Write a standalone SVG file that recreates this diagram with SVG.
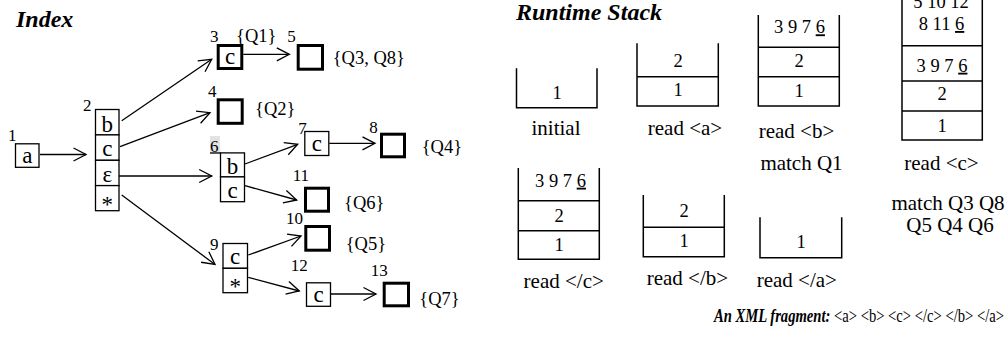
<svg xmlns="http://www.w3.org/2000/svg" width="1006" height="360" viewBox="0 0 1006 360">
<defs>
<style>
text{font-family:"Liberation Serif","Times New Roman",serif;fill:#000}
.t{font-size:24px;font-weight:bold;font-style:italic}
.n{font-size:17px}
.q{font-size:18.5px}
.l{font-size:23px;text-anchor:middle}
.s{font-size:18.5px;text-anchor:middle}
.c{font-size:21px;text-anchor:middle}
.thin{fill:#fff;stroke:#000;stroke-width:1.3}
.thick{fill:#fff;stroke:#000;stroke-width:3}
.stk{fill:none;stroke:#000;stroke-width:1.5}
.e{fill:none;stroke:#000;stroke-width:1.3}
</style>
<marker id="ah" markerUnits="userSpaceOnUse" markerWidth="16" markerHeight="16" viewBox="-14 -8 16 16" refX="0" refY="0" orient="auto">
<path d="M-12.5,-6.5 L0,0 L-12.5,6.5" fill="none" stroke="#000" stroke-width="1.3"/>
</marker>
</defs>
<rect width="1006" height="360" fill="#fff"/>
<text class="t" x="16" y="27">Index</text>
<text class="t" x="516" y="19.5">Runtime Stack</text>

<g id="edges" class="e">
<line x1="40" y1="154.5" x2="86" y2="154.5" marker-end="url(#ah)"/>
<line x1="121.7" y1="120.7" x2="211.7" y2="59.3" marker-end="url(#ah)"/>
<line x1="120" y1="146.7" x2="210" y2="112.7" marker-end="url(#ah)"/>
<line x1="118.3" y1="176" x2="211.7" y2="176" marker-end="url(#ah)"/>
<line x1="121.7" y1="195" x2="215" y2="264.5" marker-end="url(#ah)"/>
<line x1="243.3" y1="54.3" x2="289.3" y2="54.3" marker-end="url(#ah)"/>
<line x1="245" y1="164" x2="297.7" y2="144.3" marker-end="url(#ah)"/>
<line x1="329.3" y1="143.3" x2="375" y2="143.3" marker-end="url(#ah)"/>
<line x1="245" y1="185.7" x2="296.7" y2="200" marker-end="url(#ah)"/>
<line x1="248.3" y1="255" x2="301" y2="236" marker-end="url(#ah)"/>
<line x1="248.3" y1="277.3" x2="299.3" y2="291" marker-end="url(#ah)"/>
<line x1="331" y1="294" x2="376" y2="294" marker-end="url(#ah)"/>
</g>

<g id="n1">
<rect class="thin" x="15.5" y="143.8" width="23.5" height="23.5"/>
<text class="l" x="27.3" y="162.5">a</text>
<text class="n" x="8" y="141">1</text>
</g>
<g id="n2">
<rect class="thin" x="95.5" y="109.5" width="23.5" height="25.4"/>
<rect class="thin" x="95.5" y="134.9" width="23.5" height="25.4"/>
<rect class="thin" x="95.5" y="160.3" width="23.5" height="25.3"/>
<rect class="thin" x="95.5" y="185.6" width="23.5" height="25.1"/>
<text class="l" x="107.3" y="131.5">b</text>
<text class="l" x="107.3" y="155.5">c</text>
<text class="l" x="107.3" y="182">ε</text>
<text class="l" x="107.3" y="212">*</text>
<text class="n" x="83" y="111">2</text>
</g>
<g id="n3">
<rect class="thick" x="218.2" y="45.5" width="23.6" height="23"/>
<text class="l" x="230" y="63.5">c</text>
<text class="n" x="210" y="42">3</text>
<text class="q" x="236" y="42">{Q1}</text>
</g>
<g id="n4">
<rect class="thick" x="218.2" y="99.8" width="24" height="23.5"/>
<text class="n" x="208" y="97">4</text>
<text class="q" x="255" y="115">{Q2}</text>
</g>
<g id="n5">
<rect class="thick" x="298.2" y="45.5" width="24.3" height="23.7"/>
<text class="n" x="287.3" y="42">5</text>
<text class="q" x="332.7" y="63.5">{Q3, Q8}</text>
</g>
<g id="n6">
<rect x="210" y="136" width="10" height="17" fill="#e2e2e2"/>
<line x1="210" y1="153" x2="221" y2="153" stroke="#000" stroke-width="1.3"/>
<rect class="thin" x="220.5" y="152.9" width="24" height="24"/>
<rect class="thin" x="220.5" y="176.9" width="24" height="24.8"/>
<text class="l" x="232.5" y="174">b</text>
<text class="l" x="232.5" y="197.5">c</text>
<text class="n" x="210" y="152">6</text>
</g>
<g id="n7">
<rect class="thin" x="304.8" y="131.5" width="24" height="24"/>
<text class="l" x="316.8" y="151">c</text>
<text class="n" x="298.3" y="133.5">7</text>
</g>
<g id="n8">
<rect class="thick" x="381.5" y="134.2" width="23" height="22.6"/>
<text class="n" x="369.3" y="133.3">8</text>
<text class="q" x="421.7" y="153">{Q4}</text>
</g>
<g id="n9">
<rect class="thin" x="223" y="243.5" width="24.5" height="24.8"/>
<rect class="thin" x="223" y="268.3" width="24.5" height="24.4"/>
<text class="l" x="235.2" y="263.5">c</text>
<text class="l" x="235.2" y="294">*</text>
<text class="n" x="210" y="250">9</text>
</g>
<g id="n10">
<rect class="thick" x="305.8" y="226.5" width="23.7" height="23.7"/>
<text class="n" x="286" y="224">10</text>
<text class="q" x="345.7" y="250">{Q5}</text>
</g>
<g id="n11">
<rect class="thick" x="305.5" y="188.2" width="23" height="23"/>
<text class="n" x="292.7" y="181">11</text>
<text class="q" x="344" y="209.3">{Q6}</text>
</g>
<g id="n12">
<rect class="thin" x="306.5" y="282.8" width="24" height="23.5"/>
<text class="l" x="318.5" y="302">c</text>
<text class="n" x="290.7" y="270.7">12</text>
</g>
<g id="n13">
<rect class="thick" x="384.2" y="283.2" width="24.3" height="22.6"/>
<text class="n" x="370.7" y="276">13</text>
<text class="q" x="419.3" y="305">{Q7}</text>
</g>

<g id="stack-initial">
<path class="stk" d="M516.5,68.3 V107.7 H597 V68.3"/>
<text class="s" x="557" y="99.3">1</text>
<text class="c" x="556" y="135">initial</text>
</g>
<g id="stack-read-a">
<path class="stk" d="M637,43.3 V106 H718.3 V43.3 M637,76.7 H718.3"/>
<text class="s" x="678" y="66.7">2</text>
<text class="s" x="678" y="96">1</text>
<text class="c" x="685" y="135">read &lt;a&gt;</text>
</g>
<g id="stack-read-b">
<path class="stk" d="M758.3,15 V106 H839.3 V15 M758.3,47.3 H839.3 M758.3,76.7 H839.3"/>
<text class="s" x="799.5" y="33.3">3 9 7 <tspan text-decoration="underline">6</tspan></text>
<text class="s" x="799" y="66.7">2</text>
<text class="s" x="799" y="96.7">1</text>
<text class="c" x="796.5" y="138.3">read &lt;b&gt;</text>
<text class="c" x="801.5" y="170">match Q1</text>
</g>
<g id="stack-read-c">
<path class="stk" d="M902,-20 V140 H982.3 V-20 M902,45.7 H982.3 M902,81 H982.3 M902,111 H982.3"/>
<text class="s" x="941" y="8">5 10 12</text>
<text class="s" x="941.5" y="30">8 11 <tspan text-decoration="underline">6</tspan></text>
<text class="s" x="942" y="71.7">3 9 7 <tspan text-decoration="underline">6</tspan></text>
<text class="s" x="942" y="100">2</text>
<text class="s" x="942" y="131.7">1</text>
<text class="c" x="941.5" y="170">read &lt;c&gt;</text>
<text class="c" x="948" y="210">match Q3 Q8</text>
<text class="c" x="950" y="231.7">Q5 Q4 Q6</text>
</g>
<g id="stack-read-end-c">
<path class="stk" d="M518.3,168 V259.3 H599.3 V168 M518.3,200.7 H599.3 M518.3,230.7 H599.3"/>
<text class="s" x="560.5" y="186.7">3 9 7 <tspan text-decoration="underline">6</tspan></text>
<text class="s" x="559" y="221.7">2</text>
<text class="s" x="559" y="250.7">1</text>
<text class="c" x="563.7" y="288.3">read &lt;/c&gt;</text>
</g>
<g id="stack-read-end-b">
<path class="stk" d="M643.3,195 V256.7 H724.3 V195 M643.3,227.3 H724.3"/>
<text class="s" x="684" y="217.3">2</text>
<text class="s" x="684" y="246.7">1</text>
<text class="c" x="687.4" y="285">read &lt;/b&gt;</text>
</g>
<g id="stack-read-end-a">
<path class="stk" d="M760,217.3 V257.7 H841.7 V217.3"/>
<text class="s" x="801" y="248.3">1</text>
<text class="c" x="796.8" y="286.7">read &lt;/a&gt;</text>
</g>

<text transform="translate(714,322) scale(0.77,1)" x="0" y="0" style="font-size:19px"><tspan font-weight="bold" font-style="italic">An XML fragment:</tspan> &lt;a&gt; &lt;b&gt; &lt;c&gt; &lt;/c&gt; &lt;/b&gt; &lt;/a&gt;</text>
</svg>
